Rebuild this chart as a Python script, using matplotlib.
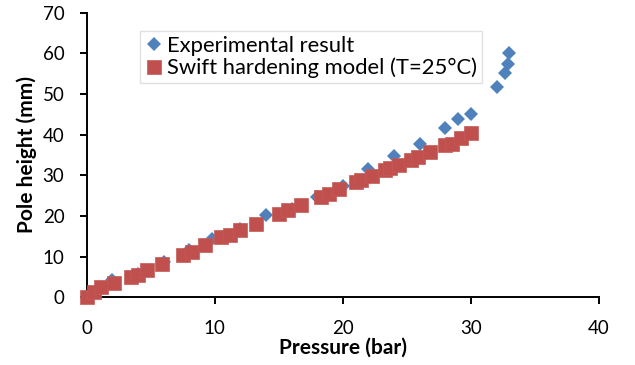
import matplotlib
matplotlib.use("Agg")
import matplotlib.pyplot as plt

plt.rcParams['font.family'] = ['Lato', 'DejaVu Sans']

# Experimental result
P_exp = [0, 2.0, 4.0, 6.0, 8.0, 9.8, 12.0, 14.0, 16.0, 18.0, 20.0, 22.0, 24.0,
         26.0, 28.0, 29.0, 30.0, 32.0, 32.7, 32.9, 33.0]
H_exp = [0, 4.2, 5.8, 8.7, 11.6, 14.4, 16.9, 20.2, 21.8, 24.6, 27.3, 31.6, 34.8,
         37.6, 41.6, 43.8, 45.0, 51.8, 55.1, 57.5, 60.0]

# Swift hardening model (T=25°C)
P_mod = [0, 0.6, 1.15, 2.1, 3.45, 4.0, 4.7, 5.85, 7.55, 8.2, 9.2, 10.45, 11.2,
         12.0, 13.2, 15.0, 15.7, 16.7, 18.3, 18.9, 19.7, 21.0, 21.4, 22.3, 23.3,
         23.7, 24.4, 25.3, 25.9, 26.8, 28.0, 28.5, 29.2, 30.0]
H_mod = [0, 1.3, 2.5, 3.4, 5.0, 5.4, 6.6, 8.3, 10.5, 11.2, 12.8, 14.8, 15.4,
         16.5, 18.1, 20.6, 21.4, 22.8, 24.7, 25.5, 26.7, 28.4, 28.8, 29.8, 31.3,
         31.7, 32.5, 33.7, 34.6, 35.8, 37.4, 37.8, 39.1, 40.5]

x_ticks = [0, 10, 20, 30, 40]
y_ticks = [0, 10, 20, 30, 40, 50, 60, 70]

fig = plt.figure(figsize=(6.35, 3.65), dpi=100)
ax = fig.add_axes([0.1365, 0.1855, 0.8068, 0.7797])

ax.plot(P_exp, H_exp, linestyle='none', marker='D', markersize=7,
        color='#4F81BD', markeredgewidth=0, label='Experimental result', zorder=2)
ax.plot(P_mod, H_mod, linestyle='none', marker='s', markersize=10.5,
        color='#C0504D', markeredgecolor='#C55A57', markeredgewidth=0.5,
        label='Swift hardening model (T=25°C)', zorder=3)

ax.set_xlim(0, 40)
ax.set_ylim(0, 70)
ax.set_xticks(x_ticks)
ax.set_yticks(y_ticks)
ax.spines['top'].set_visible(False)
ax.spines['right'].set_visible(False)
for s in ('left', 'bottom'):
    ax.spines[s].set_linewidth(1.4)
    ax.spines[s].set_color('black')
ax.tick_params(axis='both', direction='out', length=5, width=1.4, labelsize=13.5)
ax.tick_params(axis='x', pad=11)
ax.tick_params(axis='y', pad=11)

ax.set_xlabel('Pressure (bar)', fontsize=15, fontweight='bold', labelpad=0.5)
ax.set_ylabel('Pole height (mm)', fontsize=15, fontweight='bold', labelpad=4)

leg = ax.legend(loc='upper left', bbox_to_anchor=(0.104, 0.935), fontsize=15.8,
                frameon=True, fancybox=False, borderpad=0.2, handletextpad=0.15,
                handlelength=0.9, labelspacing=0.1, borderaxespad=0)
leg.get_frame().set_edgecolor('#d9d9d9')
leg.get_frame().set_linewidth(1.0)

for line in ax.get_lines():
    line.set_clip_on(False)

fig.savefig('out.png', dpi=100)
